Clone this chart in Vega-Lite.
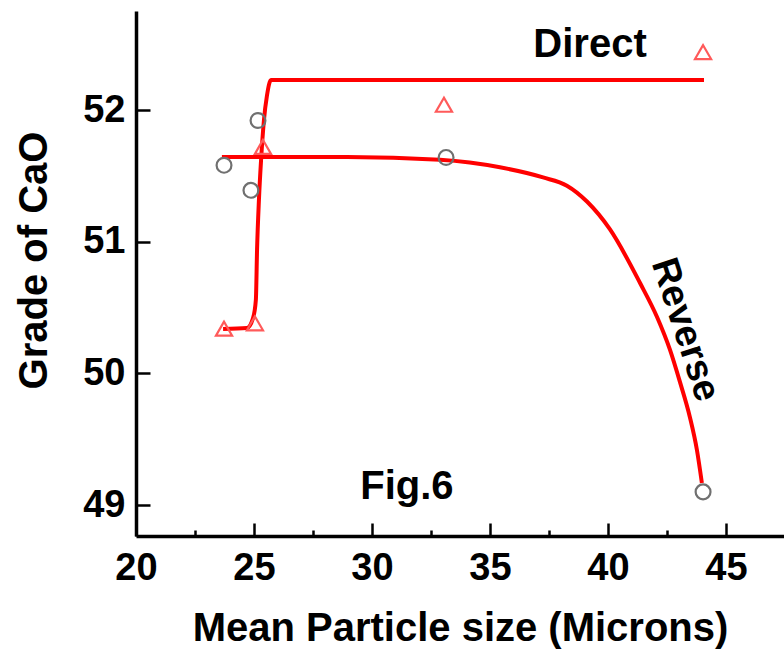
{
  "$schema": "https://vega.github.io/schema/vega-lite/v6.json",
  "width": 648,
  "height": 525,
  "autosize": {"type": "none"},
  "padding": {"left": 136, "top": 11, "right": 0, "bottom": 123},
  "background": "white",
  "config": {"view": {"stroke": null}, "font": "Liberation Sans"},
  "datasets": {
    "curves": [
      {"series": "Direct", "x": 23.69, "y": 50.337},
      {"series": "Direct", "x": 24.70, "y": 50.345},
      {"series": "Direct", "x": 24.96, "y": 50.42},
      {"series": "Direct", "x": 25.08, "y": 50.56},
      {"series": "Direct", "x": 25.13, "y": 50.94},
      {"series": "Direct", "x": 25.21, "y": 51.32},
      {"series": "Direct", "x": 25.30, "y": 51.62},
      {"series": "Direct", "x": 25.42, "y": 51.92},
      {"series": "Direct", "x": 25.55, "y": 52.11},
      {"series": "Direct", "x": 25.72, "y": 52.228},
      {"series": "Direct", "x": 44.07, "y": 52.228},
      {"series": "Reverse", "x": 23.64, "y": 51.643},
      {"series": "Reverse", "x": 28.94, "y": 51.643},
      {"series": "Reverse", "x": 32.88, "y": 51.622},
      {"series": "Reverse", "x": 35.42, "y": 51.565},
      {"series": "Reverse", "x": 37.25, "y": 51.488},
      {"series": "Reverse", "x": 38.26, "y": 51.425},
      {"series": "Reverse", "x": 39.11, "y": 51.305},
      {"series": "Reverse", "x": 40.08, "y": 51.095},
      {"series": "Reverse", "x": 41.36, "y": 50.686},
      {"series": "Reverse", "x": 42.08, "y": 50.428},
      {"series": "Reverse", "x": 42.63, "y": 50.178},
      {"series": "Reverse", "x": 43.05, "y": 49.935},
      {"series": "Reverse", "x": 43.47, "y": 49.669},
      {"series": "Reverse", "x": 43.77, "y": 49.418},
      {"series": "Reverse", "x": 43.98, "y": 49.168}
    ],
    "direct": [
      {"x": 23.73, "y": 50.34},
      {"x": 25.04, "y": 50.38},
      {"x": 25.38, "y": 51.72},
      {"x": 33.05, "y": 52.04},
      {"x": 44.03, "y": 52.44}
    ],
    "reverse": [
      {"x": 23.73, "y": 51.58},
      {"x": 24.87, "y": 51.39},
      {"x": 25.17, "y": 51.92},
      {"x": 33.14, "y": 51.64},
      {"x": 44.03, "y": 49.10}
    ],
    "labels": [
      {"text": "Direct", "x": 39.24, "y": 52.49},
      {"text": "Fig.6", "x": 31.48, "y": 49.14}
    ],
    "rotlabels": [
      {"text": "Reverse", "x": 43.26, "y": 50.33}
    ]
  },
  "encoding": {
    "x": {
      "field": "x",
      "type": "quantitative",
      "scale": {"domain": [20, 47.46], "nice": false, "zero": false},
      "axis": {
        "values": [20, 22.5, 25, 27.5, 30, 32.5, 35, 37.5, 40, 42.5, 45],
        "format": "d",
        "labelExpr": "datum.value % 5 === 0 ? datum.label : ''",
        "title": "Mean Particle size (Microns)",
        "grid": false,
        "domainColor": "black",
        "domainWidth": 3.5,
        "tickColor": "black",
        "tickWidth": 2.5,
        "tickSize": {"condition": {"test": "datum.value % 5 === 0", "value": -13}, "value": -6},
        "labelFont": "Liberation Sans",
        "labelFontWeight": "bold",
        "labelFontSize": 38,
        "labelColor": "black",
        "labelPadding": 26,
        "labelFlush": false,
        "labelOverlap": false,
        "titleFont": "Liberation Sans",
        "titleFontWeight": "bold",
        "titleFontSize": 40,
        "titleColor": "black",
        "titlePadding": 14
      }
    },
    "y": {
      "field": "y",
      "type": "quantitative",
      "scale": {"domain": [48.765, 52.752], "nice": false, "zero": false},
      "axis": {
        "values": [49, 49.5, 50, 50.5, 51, 51.5, 52, 52.5],
        "format": "d",
        "labelExpr": "datum.value % 1 === 0 ? datum.label : ''",
        "title": "Grade of CaO",
        "grid": false,
        "domainColor": "black",
        "domainWidth": 3.5,
        "tickColor": "black",
        "tickWidth": 2.5,
        "tickSize": {"condition": {"test": "datum.value % 1 === 0", "value": -14}, "value": -7},
        "labelFont": "Liberation Sans",
        "labelFontWeight": "bold",
        "labelFontSize": 38,
        "labelColor": "black",
        "labelPadding": 25,
        "labelFlush": false,
        "labelOverlap": false,
        "titleFont": "Liberation Sans",
        "titleFontWeight": "bold",
        "titleFontSize": 40,
        "titleColor": "black",
        "titlePadding": 28,
        "titleY": 249
      }
    }
  },
  "layer": [
    {
      "data": {"name": "curves"},
      "mark": {"type": "line", "color": "#ff0000", "strokeWidth": 4, "clip": true, "interpolate": "monotone"},
      "encoding": {"detail": {"field": "series"}}
    },
    {
      "data": {"name": "direct"},
      "mark": {"type": "point", "shape": "triangle-up", "filled": false, "stroke": "#ff5a5a", "strokeWidth": 2.2, "size": 260, "opacity": 1}
    },
    {
      "data": {"name": "reverse"},
      "mark": {"type": "point", "shape": "circle", "filled": false, "stroke": "#707070", "strokeWidth": 2.2, "size": 220, "opacity": 1}
    },
    {
      "data": {"name": "labels"},
      "mark": {"type": "text", "font": "Liberation Sans", "fontWeight": "bold", "fontSize": 40, "color": "black", "align": "center", "baseline": "middle"},
      "encoding": {"text": {"field": "text"}}
    },
    {
      "data": {"name": "rotlabels"},
      "mark": {"type": "text", "font": "Liberation Sans", "fontWeight": "bold", "fontSize": 38, "color": "black", "align": "center", "baseline": "middle", "angle": 72},
      "encoding": {"text": {"field": "text"}}
    }
  ]
}
